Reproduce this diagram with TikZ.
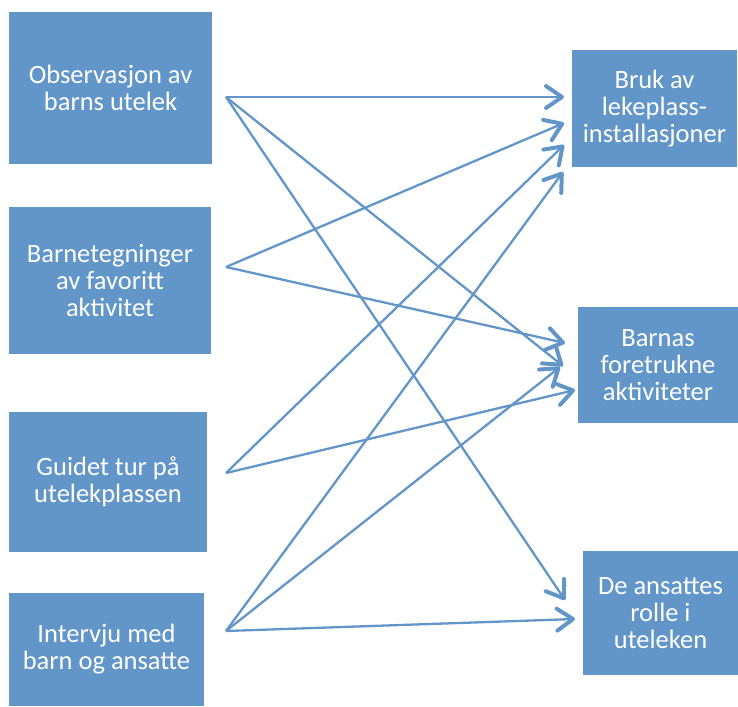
\documentclass[tikz,border=0pt]{standalone}
\usepackage{fontspec}
\setmainfont{Carlito}
\usetikzlibrary{arrows.meta}

\definecolor{boxblue}{RGB}{98,150,201}

\tikzset{
  box/.style={rectangle, fill=boxblue, text=white, align=center, inner sep=0pt,
    font=\fontsize{26.5}{27}\selectfont},
  link/.style={draw=boxblue, line width=2.3pt,
    -{Straight Barb[length=16pt,width=22pt,line width=4pt,round]}},
}

\begin{document}
\begin{tikzpicture}[x=1pt,y=-1pt]

      \useasboundingbox (0,0) rectangle (738,706);

      \begin{scope}[every node/.style={box}]
        \node[minimum width=203, minimum height=151] (obs)  at (110.5,88)  {Observasjon av\\barns utelek};
        \node[minimum width=202, minimum height=147] (teg)  at (110,280.5) {Barnetegninger\\av favoritt\\aktivitet};
        \node[minimum width=198, minimum height=140] (tur)  at (108,482)   {Guidet tur på\\utelekplassen};
        \node[minimum width=195, minimum height=113] (int)  at (106.5,649.5) {Intervju med\\barn og ansatte};
        \node[minimum width=165, minimum height=117] (bruk) at (654.5,108.5) {Bruk av\\lekeplass-\\installasjoner};
        \node[minimum width=160, minimum height=116] (akt)  at (658,365)   {Barnas\\foretrukne\\aktiviteter};
        \node[minimum width=155, minimum height=124] (rol)  at (660.5,613) {De ansattes\\rolle i\\uteleken};
      \end{scope}

      % start and end points of the arrows
      \coordinate (s1) at (226,97);
      \coordinate (s2) at (226,267);
      \coordinate (s3) at (226,473);
      \coordinate (s4) at (226,631);
      \coordinate (a1) at (564,97);
      \coordinate (a2) at (564,123);
      \coordinate (a3) at (564,145);
      \coordinate (a4) at (563,172);
      \coordinate (b1) at (563,366);
      \coordinate (b2) at (565,343);
      \coordinate (b3) at (575,390);
      \coordinate (b4) at (560,367);
      \coordinate (c1) at (565,600);
      \coordinate (c4) at (575,619);

      \begin{scope}[every edge/.style={link}]
        \path (s1) edge (a1);
        \path (s1) edge (b1);
        \path (s1) edge (c1);
        \path (s2) edge (a2);
        \path (s2) edge (b2);
        \path (s3) edge (a3);
        \path (s3) edge (b3);
        \path (s4) edge (a4);
        \path (s4) edge (b4);
        \path (s4) edge (c4);
      \end{scope}

    \end{tikzpicture}
\end{document}
